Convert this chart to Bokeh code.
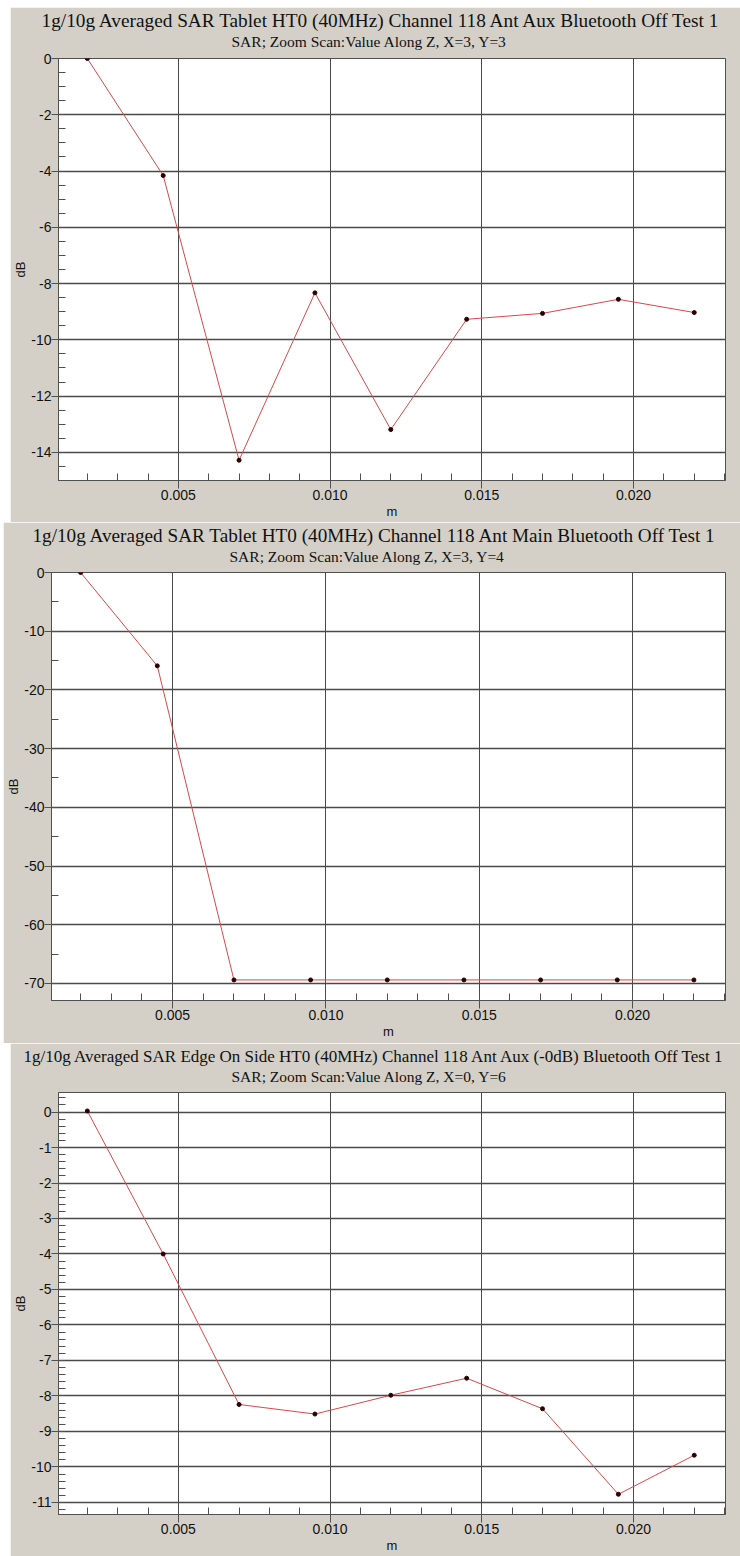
from bokeh.plotting import figure
from bokeh.layouts import column
from bokeh.models import FixedTicker, PrintfTickFormatter, Range1d, Title
from bokeh.embed import file_html
from bokeh.resources import INLINE

# ---------------- data ----------------
depth_m = [0.002, 0.0045, 0.007, 0.0095, 0.012, 0.0145, 0.017, 0.0195, 0.022]

sar_db_tablet_aux = [0.0, -4.16, -14.28, -8.33, -13.19, -9.27, -9.06, -8.56, -9.03]
sar_db_tablet_main = [0.0, -15.9, -69.4, -69.4, -69.4, -69.4, -69.4, -69.4, -69.4]
sar_db_edge_aux = [0.03, -4.0, -8.24, -8.51, -7.98, -7.5, -8.36, -10.77, -9.67]

titles = [
    "1g/10g Averaged SAR Tablet HT0 (40MHz) Channel 118 Ant Aux Bluetooth Off Test 1",
    "1g/10g Averaged SAR Tablet HT0 (40MHz) Channel 118 Ant Main Bluetooth Off Test 1",
    "1g/10g Averaged SAR Edge On Side HT0 (40MHz) Channel 118 Ant Aux (-0dB) Bluetooth Off Test 1",
]
subtitles = [
    "SAR; Zoom Scan:Value Along Z, X=3, Y=3",
    "SAR; Zoom Scan:Value Along Z, X=3, Y=4",
    "SAR; Zoom Scan:Value Along Z, X=0, Y=6",
]

x_major_ticks = [0.005, 0.010, 0.015, 0.020]
x_minor_ticks = [i / 1000 for i in range(1, 24)]

y_major_ticks = [
    [0, -2, -4, -6, -8, -10, -12, -14],
    [0, -10, -20, -30, -40, -50, -60, -70],
    [0, -1, -2, -3, -4, -5, -6, -7, -8, -9, -10, -11],
]
y_minor_ticks = [
    [-0.5 * i for i in range(0, 31)],
    [-5.0 * i for i in range(0, 15)],
    [round(0.4 - 0.2 * i, 1) for i in range(0, 59)],
]
y_ranges = [(-15.0, 0.0), (-72.9, 0.0), (-11.34, 0.55)]
x_range = (0.00105, 0.02303)

series = [sar_db_tablet_aux, sar_db_tablet_main, sar_db_edge_aux]

# panel geometry: (fig width, fig height, left border, top border, bottom border, margin)
geoms = [
    (730, 515, 47, 50, 42, (7, 0, 0, 10)),
    (737, 521, 48, 49, 43, (0, 0, 0, 3)),
    (730, 513, 47, 49, 42, (0, 0, 0, 10)),
]
title_sizes = ["19.3px", "19.2px", "17px"]
title_offsets = [-17, -19, -35]
sub_offsets = [173, 178, 173]
spacer_standoff = [5.5, 4.5, 4.5]

PANEL_BG = "#D4D0C8"
GRID = "#4a4a4a"

figs = []
for k in range(3):
    w, h, bl, bt, bb, mg = geoms[k]
    p = figure(
        width=w, height=h,
        output_backend="svg", toolbar_location=None,
        x_range=Range1d(*x_range), y_range=Range1d(*y_ranges[k]),
        min_border_left=bl, min_border_right=15, min_border_top=bt,
        min_border_bottom=bb,
        border_fill_color=PANEL_BG, background_fill_color="white",
        outline_line_color="#505050",
    )
    p.margin = mg
    # spacer between frame and subtitle
    p.add_layout(Title(text=" ", text_font_size="1px", standoff=spacer_standoff[k]), "above")
    p.add_layout(Title(text=subtitles[k], align="left", offset=sub_offsets[k],
                       text_font="Liberation Serif",
                       text_font_size="15.5px", text_font_style="normal",
                       text_color="#111111", standoff=0), "above")
    p.add_layout(Title(text=titles[k], align="left", offset=title_offsets[k],
                       text_font="Liberation Serif",
                       text_font_size=title_sizes[k], text_font_style="normal",
                       text_color="#111111", standoff=0), "above")

    p.xaxis.ticker = FixedTicker(ticks=x_major_ticks, minor_ticks=x_minor_ticks)
    p.xaxis.formatter = PrintfTickFormatter(format="%.3f")
    p.yaxis.ticker = FixedTicker(ticks=y_major_ticks[k], minor_ticks=y_minor_ticks[k])
    p.yaxis.formatter = PrintfTickFormatter(format="%d")
    p.xaxis.axis_label = "m"
    p.yaxis.axis_label = "dB"

    for ax in (p.xaxis[0], p.yaxis[0]):
        ax.axis_line_color = "#505050"
        ax.major_tick_line_color = "#505050"
        ax.minor_tick_line_color = "#505050"
        ax.major_tick_in = 0
        ax.minor_tick_in = 7
        ax.minor_tick_out = 0
        ax.major_label_text_font = "Liberation Sans"
        ax.major_label_text_font_size = "14px"
        ax.major_label_text_color = "#111111"
        ax.axis_label_text_font = "Liberation Sans"
        ax.axis_label_text_font_size = "13px"
        ax.axis_label_text_font_style = "normal"
        ax.axis_label_text_color = "#111111"

    p.xaxis.major_tick_out = 8
    p.xaxis.major_label_standoff = 1
    p.xaxis.axis_label_standoff = 1
    p.yaxis.major_tick_out = 7
    p.yaxis.major_label_standoff = 0
    p.yaxis.axis_label_standoff = 0

    p.xgrid.grid_line_color = GRID
    p.ygrid.grid_line_color = GRID
    p.xgrid.grid_line_width = 1
    p.ygrid.grid_line_width = 1.3

    p.line(depth_m, series[k], line_color="#D84848", line_width=1)
    p.scatter(depth_m, series[k], size=4, fill_color="#2a0000", line_color="#2a0000")
    figs.append(p)

layout = column(*figs, spacing=0)
open("out.html", "w").write(file_html(layout, INLINE))
